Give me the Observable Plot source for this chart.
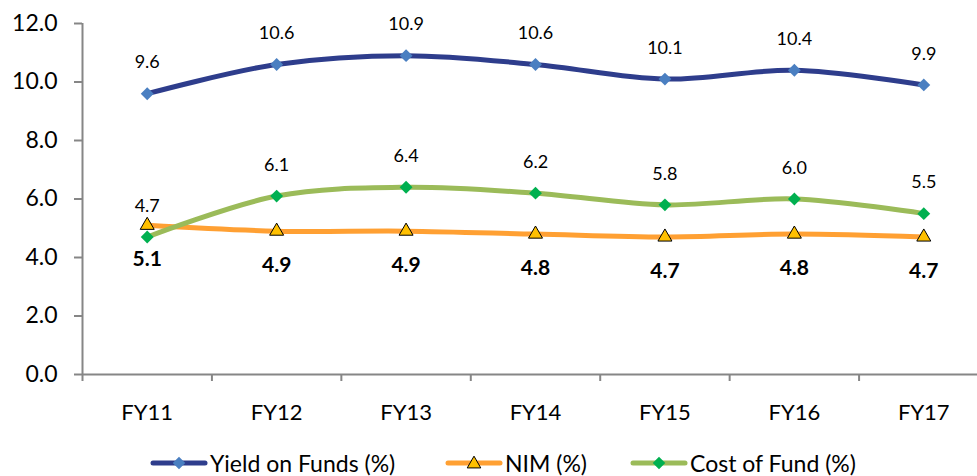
<!DOCTYPE html>
<html>
<head>
<meta charset="utf-8">
<script src="https://cdn.jsdelivr.net/npm/d3@7"></script>
<script src="https://cdn.jsdelivr.net/npm/@observablehq/plot@0.6"></script>
<style>
  html, body { margin: 0; padding: 0; background: #fff; }
  body { width: 977px; height: 476px; overflow: hidden; font-family: Lato, "Open Sans", sans-serif; }
  #legend { position: relative; height: 32px; line-height: 32px; font-size: 23px; color: #000; white-space: nowrap; }
  .item { position: absolute; top: 0; display: flex; align-items: center; height: 32px; }
  .item svg { display: block; margin-right: 2px; }
</style>
</head>
<body>
<div id="chart"></div>
<div id="legend"></div>
<script>
const categories = ["FY11", "FY12", "FY13", "FY14", "FY15", "FY16", "FY17"];
const yieldValues = [9.6, 10.6, 10.9, 10.6, 10.1, 10.4, 9.9];
const nimValues = [5.1, 4.9, 4.9, 4.8, 4.7, 4.8, 4.7];
const costValues = [4.7, 6.1, 6.4, 6.2, 5.8, 6.0, 5.5];
const seriesNames = ["Yield on Funds (%)", "NIM (%)", "Cost of Fund (%)"];
const yTicks = [0, 2, 4, 6, 8, 10, 12];

const lineColors = ["#2E3D8C", "#FFA033", "#9BBB59"];
const markerFills = ["#4A7FC1", "#FFC000", "#00B050"];

const seriesValues = [yieldValues, nimValues, costValues];
const rows = [];
seriesNames.forEach((s, k) => {
  categories.forEach((c, i) => rows.push({i, cat: c, series: s, k, value: seriesValues[k][i]}));
});
const bySeries = k => rows.filter(r => r.k === k);
const boundaries = d3.range(categories.length + 1).map(i => i - 0.5);
const gray = "#868686";
const font = "Lato, 'Open Sans', sans-serif";

const chart = Plot.plot({
  width: 977,
  height: 447,
  marginTop: 23,
  marginBottom: 73,
  marginLeft: 82,
  marginRight: 0,
  style: {fontFamily: font, background: "#fff", overflow: "visible"},
  x: {domain: [-0.5, categories.length - 0.5], range: [82, 988]},
  y: {domain: [0, 12]},
  marks: [
    Plot.ruleY([0], {stroke: gray, strokeWidth: 2}),
    Plot.ruleX([-0.5], {stroke: gray, strokeWidth: 2}),
    Plot.axisY(yTicks, {tickSize: 8, tickPadding: 17, tickFormat: d3.format(".1f"), fontSize: 23, stroke: gray, strokeWidth: 2, fill: "#000", label: null}),
    Plot.axisX(boundaries, {tickSize: 7, tickFormat: () => "", stroke: gray, strokeWidth: 2, label: null}),
    Plot.axisX(d3.range(categories.length), {tickSize: 0, tickPadding: 30, tickFormat: i => categories[i], fontSize: 22, fill: "#000", label: null}),
    // lines
    ...[0, 1, 2].map(k => Plot.line(bySeries(k), {x: "i", y: "value", curve: "catmull-rom", stroke: lineColors[k], strokeWidth: 5, strokeLinecap: "round"})),
    // markers
    Plot.dot(bySeries(0), {x: "i", y: "value", symbol: "diamond2", r: 5.8, fill: markerFills[0], stroke: "none"}),
    Plot.dot(bySeries(1), {x: "i", y: "value", symbol: "triangle", r: 5.2, fill: markerFills[1], stroke: "#000", strokeWidth: 1}),
    Plot.dot(bySeries(2), {x: "i", y: "value", symbol: "diamond2", r: 5.8, fill: markerFills[2], stroke: "none"}),
    // labels
    Plot.text(bySeries(0), {x: "i", y: "value", text: d => d.value.toFixed(1), dy: -31, fontSize: 18, fill: "#000"}),
    Plot.text(bySeries(2), {x: "i", y: "value", text: d => d.value.toFixed(1), dy: -31, fontSize: 18, fill: "#000"}),
    Plot.text(bySeries(1), {x: "i", y: "value", text: d => d.value.toFixed(1), dy: 34, fontSize: 21, fontWeight: "bold", fill: "#000"})
  ]
});
document.getElementById("chart").appendChild(chart);

// Legend
const legendX = [150, 445, 630];
const legend = d3.select("#legend");
seriesNames.forEach((name, k) => {
  const item = legend.append("div").attr("class", "item").style("left", legendX[k] + "px");
  const svg = item.append("svg").attr("width", 58).attr("height", 20);
  svg.append("line").attr("x1", 3).attr("x2", 55).attr("y1", 10).attr("y2", 10)
    .attr("stroke", lineColors[k]).attr("stroke-width", 5).attr("stroke-linecap", "round");
  if (k === 1) {
    svg.append("path").attr("d", d3.symbol(d3.symbolTriangle, 80)()).attr("transform", "translate(29,11)")
      .attr("fill", markerFills[k]).attr("stroke", "#000").attr("stroke-width", 1);
  } else {
    svg.append("path").attr("d", d3.symbol(d3.symbolDiamond2, 100)()).attr("transform", "translate(29,10)")
      .attr("fill", markerFills[k]);
  }
  item.append("span").text(name);
});
</script>
</body>
</html>
